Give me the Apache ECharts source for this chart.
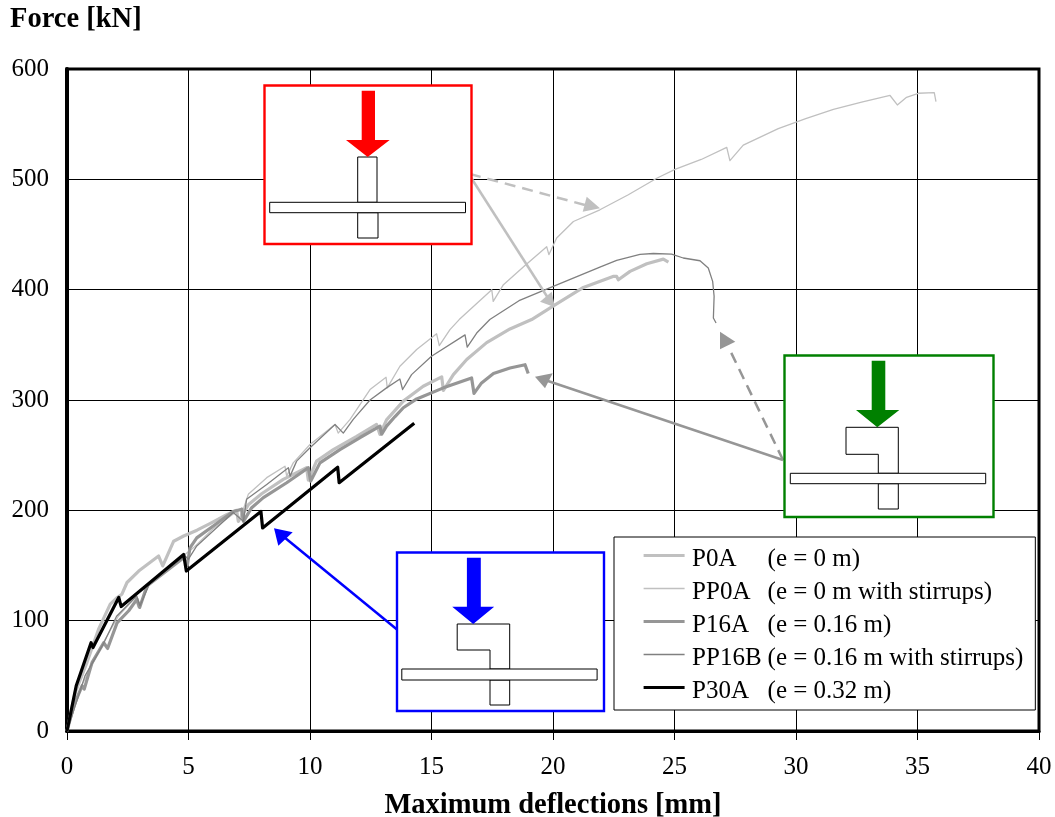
<!DOCTYPE html>
<html><head><meta charset="utf-8">
<style>html,body{margin:0;padding:0;background:#fff}#c{width:1055px;height:817px}</style>
<script src="https://cdn.jsdelivr.net/npm/echarts@6/dist/echarts.min.js"></script></head>
<body><div id="c"></div>
<script>
const xTicks = [0,5,10,15,20,25,30,35,40];
const yTicks = [0,100,200,300,400,500,600];
const P0A = [[0,0],[0.34,35],[0.82,62],[1.3,92.3],[1.78,115],[2.07,121],[2.26,124],[2.47,134.6],[2.95,145],[3.77,158.6],[3.94,149.6],[4.39,172],[4.8,176.7],[5.35,182],[5.88,188],[6.57,196],[6.98,200],[7.05,190],[7.46,205],[8.01,215],[8.9,228],[9.86,238.6],[9.93,227.4],[10.27,244.6],[10.96,255],[11.92,267],[12.74,277.8],[12.88,268.8],[13.15,282],[13.84,299],[14.66,312.5],[15.42,321],[15.49,308.6],[15.9,323],[16.45,336.7],[17.27,352],[18.23,364.4],[19.12,372.9],[20,385],[21.25,402],[22.47,412],[22.62,412],[22.69,409],[23.17,416.6],[23.86,423.5],[24.54,427.7],[24.75,425]];
const PP0A = [[0,0],[0.6,41],[1.49,80],[2.11,104],[2.8,121],[2.93,112],[3.42,134.6],[4.8,159],[5.2,166],[6.0,183],[6.98,199],[7.19,202],[7.12,192],[7.46,214.5],[8.22,229.6],[8.97,240],[9.04,231],[9.31,243],[10,259.7],[11.03,277.8],[11.16,270],[11.65,282.4],[12.47,309.5],[13.13,320.6],[13.18,311],[13.7,330.6],[14.39,345.7],[15.21,360],[15.32,349.3],[15.76,363.8],[16.14,372.9],[17.48,400],[17.54,389.4],[17.96,404.5],[18.8,421],[19.74,439],[19.83,431.7],[20.15,446.8],[20.84,461.8],[21.93,472.4],[23.1,486],[24.27,501],[25.02,509],[26.1,518],[27.15,529],[27.28,517],[27.83,531],[29.27,546],[30.4,555],[31.54,563.5],[32.7,570],[33.87,576],[34.17,567.4],[34.55,574.3],[35.03,578],[35.69,578.6],[35.76,570.4]];
const P16A = [[0,0],[0.28,23],[0.62,41],[0.71,38],[1.03,62],[1.51,80],[1.67,74.8],[2.06,98],[2.54,109],[2.88,119.5],[2.99,112],[3.29,131.5],[4.8,157],[4.95,150],[5.06,166],[5.34,175],[6.02,185.8],[6.84,199],[7.19,201],[7.26,190],[7.6,202.4],[8.08,211.5],[9.04,225],[9.93,238.6],[10.03,226.5],[10.41,243],[11.23,255],[12.06,266],[12.88,276.3],[12.95,269],[13.15,276.3],[13.5,285],[13.84,293],[14.39,301],[15.49,311],[16.65,320],[16.75,306],[17.06,315.5],[17.55,324],[18.23,329],[18.85,332],[18.98,324]];
const PP16B = [[0,0],[0.74,50],[1.49,78.7],[2.04,104],[2.87,122.4],[3,113.4],[3.42,134.6],[4.86,158.6],[4.99,155.6],[5.34,167.7],[6.84,198],[7.26,190],[7.39,210],[8.22,223.5],[9.11,238.6],[9.18,231],[9.45,244.6],[10,256.7],[11.03,277.8],[11.37,270],[11.78,282.4],[12.47,300],[13.15,311],[13.7,319],[13.81,309.5],[14.18,323],[15,339.6],[16.38,359],[16.47,348],[16.86,360.7],[17.4,372.9],[18.6,390],[20.01,403],[21.93,420.5],[22.62,426.5],[23.58,432],[24.13,432.8],[24.88,432.3],[25.36,428.7],[26.05,426.2],[26.39,419.6],[26.57,407.5],[26.63,394],[26.6,374.3],[26.71,369.8]];
const P30A = [[0,0],[0.38,41],[0.99,80],[1.07,75.7],[2.13,121],[2.23,112.8],[4.8,160],[4.91,145],[7.98,199],[8.05,184],[11.14,239],[11.2,225],[14.29,279]];
const seriesNames = ['P0A','PP0A','P16A','PP16B','P30A'];
const seriesNotes = ['(e = 0 m)','(e = 0 m with stirrups)','(e = 0.16 m)','(e = 0.16 m with stirrups)','(e = 0.32 m)'];
const FONT = '"Liberation Serif","Times New Roman",serif';

function box(x0,y0,x1,y1,color){return {type:'rect',z:50,shape:{x:x0,y:y0,width:x1-x0,height:y1-y0},style:{fill:'#fff',stroke:color,lineWidth:2.4}};}
function poly(pts){return {type:'polygon',z:51,shape:{points:pts},style:{fill:'#fff',stroke:'#000',lineWidth:1}};}
function line(a,b,color,dash){return {type:'line',z:49,shape:{x1:a[0],y1:a[1],x2:b[0],y2:b[1]},style:{stroke:color,lineWidth:2.5,lineDash:dash?[11,7]:null}};}
function head(p,color){return {type:'polygon',z:49,shape:{points:p},style:{fill:color}};}
function force(xl,xr,top,hy,hl,hr,tx,ty,c){return {type:'polygon',z:52,shape:{points:[[xl,top],[xr,top],[xr,hy],[hr,hy],[tx,ty],[hl,hy],[xl,hy]]},style:{fill:c}};}

const LG='#c0c0c0', MG='#969696';
const graphics = [
  line([470,174],[585,205],LG,true), head([[600,208.3],[586.7,196.7],[582.7,211.7]],LG),
  line([470,176],[548,298],LG,false), head([[555,307.3],[540,301.7],[551.7,291.7]],LG),
  line([783,460],[545,380],MG,false), head([[535,376.7],[545,388.3],[552.7,373.3]],MG),
  line([783,460],[730.7,351.7],MG,true), head([[720,331.7],[720,349.3],[735.3,341.7]],MG),
  line([396.7,629.3],[284,537],'#0000ff',false), head([[274,528.3],[278.3,545.7],[292.7,532.3]],'#0000ff'),
  box(264.5,85.5,471.5,244,'#ff0000'),
  poly([[357.7,157],[377,157],[377,202.3],[357.7,202.3]]),
  poly([[357.7,212.7],[378,212.7],[378,238],[357.7,238]]),
  poly([[269.7,202.3],[465.5,202.3],[465.5,212.7],[269.7,212.7]]),
  force(361.7,375,90.7,140,346,389.7,367.7,157,'#ff0000'),
  box(784.5,355.5,993.5,517,'#008000'),
  poly([[846,427.3],[898.3,427.3],[898.3,473.3],[878.3,473.3],[878.3,454.3],[846,454.3]]),
  poly([[878.3,483.7],[898.3,483.7],[898.3,509],[878.3,509]]),
  poly([[790.3,473.3],[985.7,473.3],[985.7,483.7],[790.3,483.7]]),
  force(871.7,885.3,360.7,410,856,899.3,877.3,427.3,'#008000'),
  box(397,552.5,604,711,'#0000ff'),
  poly([[457.2,624],[509.7,624],[509.7,669],[490,669],[490,650],[457.2,650]]),
  poly([[490,680],[509.7,680],[509.7,705],[490,705]]),
  poly([[401.8,669],[597.1,669],[597.1,680],[401.8,680]]),
  force(466.9,480.8,557.7,606.7,452.2,494.2,473.2,624,'#0000ff')
];
const widths = [3.2,1.3,3.2,1.3,3.2];

function mk(i,data,color){return {name:seriesNames[i],type:'line',data:data,showSymbol:false,symbol:'none',z:3+i,
  lineStyle:{color:color,width:widths[i],join:'round'},itemStyle:{color:color},emphasis:{disabled:true},animation:false};}

const chart = echarts.init(document.getElementById('c'),null,{renderer:'canvas'});
chart.setOption({
  animation:false,
  backgroundColor:'#fff',
  title:{text:'Force [kN]',left:10,top:5,padding:0,textStyle:{fontFamily:FONT,fontSize:28.5,fontWeight:'bold',color:'#000'}},
  grid:{left:67,right:16,top:69,bottom:86,show:true,borderColor:'#000',borderWidth:3,backgroundColor:'transparent',outerBoundsMode:'none'},
  xAxis:{type:'value',min:0,max:40,interval:5,
    name:'Maximum deflections [mm]',nameLocation:'middle',nameGap:60,
    nameTextStyle:{fontFamily:FONT,fontSize:28.5,fontWeight:'bold',color:'#000'},
    axisLine:{show:true,lineStyle:{color:'#000',width:3}},
    axisTick:{show:true,length:9,inside:false,lineStyle:{color:'#000',width:1}},
    axisLabel:{fontFamily:FONT,fontSize:25,color:'#000',margin:24,formatter:v=>String(v)},
    splitLine:{show:true,lineStyle:{color:'#000',width:1}}},
  yAxis:{type:'value',min:0,max:600,interval:100,
    axisLine:{show:true,lineStyle:{color:'#000',width:4}},
    axisTick:{show:false},
    axisLabel:{fontFamily:FONT,fontSize:25,color:'#000',margin:18,formatter:v=>String(v)},
    splitLine:{show:true,lineStyle:{color:'#000',width:1}}},
  legend:{orient:'vertical',left:614,top:537,padding:[2,12,6,28],itemWidth:41,itemHeight:22,itemGap:0,
    backgroundColor:'#fff',borderColor:'#000',borderWidth:1,borderRadius:0,z:40,selectedMode:false,
    itemStyle:{opacity:0},
    data:seriesNames.map((n,i)=>({name:n,lineStyle:{width:widths[i]}})),
    formatter:n=>{const i=seriesNames.indexOf(n);return '{a|'+n+'}{b|'+seriesNotes[i]+'}';},
    textStyle:{fontFamily:FONT,fontSize:25,color:'#000',
      rich:{a:{fontFamily:FONT,fontSize:25,lineHeight:25,width:75.5,padding:[8,0,0,2.5],color:'#000'},b:{fontFamily:FONT,fontSize:25,lineHeight:25,padding:[8,0,0,0],color:'#000'}}}},
  series:[mk(0,P0A,'#c0c0c0'),mk(1,PP0A,'#c0c0c0'),mk(2,P16A,'#969696'),mk(3,PP16B,'#808080'),mk(4,P30A,'#000')],
  graphic:{elements:graphics}
});
</script></body></html>
